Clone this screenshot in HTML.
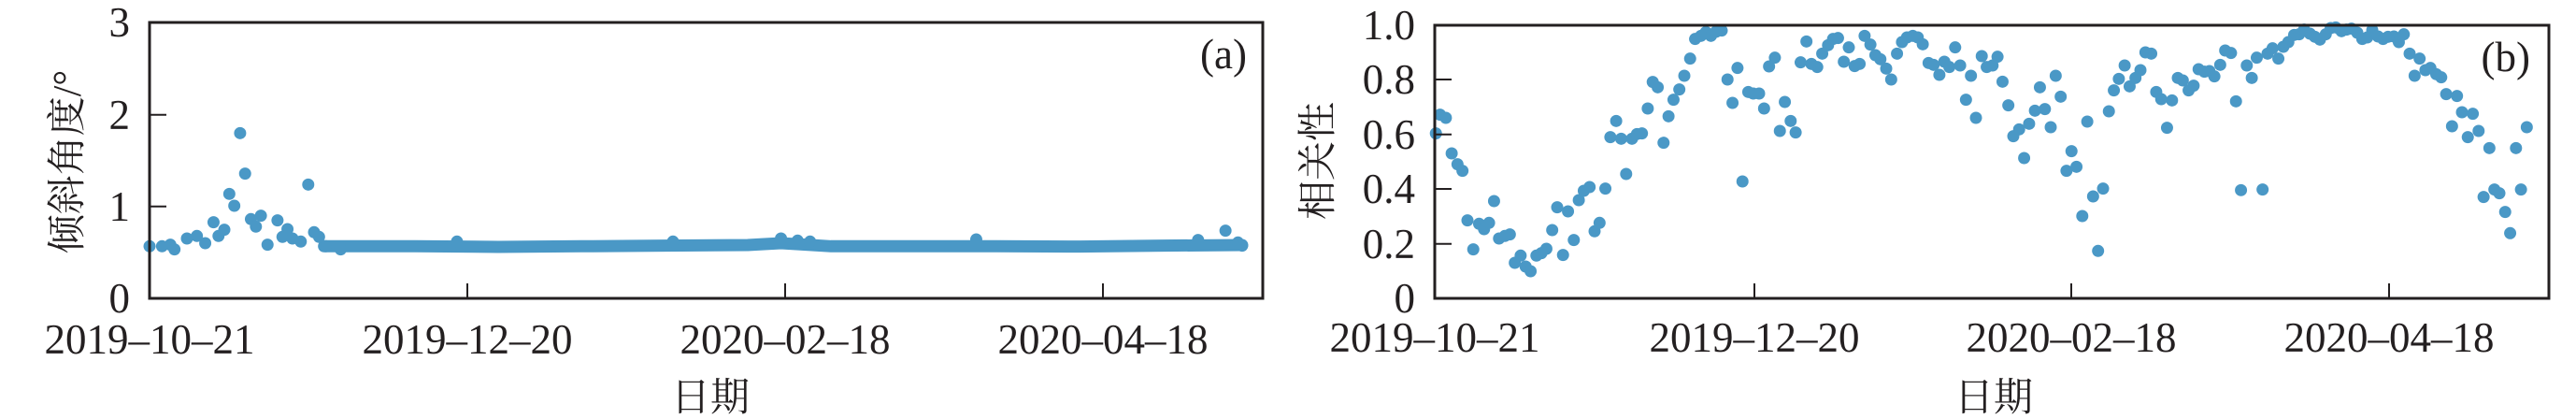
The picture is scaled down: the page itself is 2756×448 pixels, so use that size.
<!DOCTYPE html>
<html><head><meta charset="utf-8"><style>
html,body{margin:0;padding:0;background:#fff;}
svg{display:block;}
.t{font-family:"Liberation Serif","Noto Serif CJK SC",serif;font-size:45px;fill:#231f20;}
.c{font-family:"Liberation Serif","Noto Serif CJK SC",serif;font-size:42px;fill:#231f20;}
</style></head><body>
<svg width="2756" height="448" viewBox="0 0 2756 448" xmlns="http://www.w3.org/2000/svg">
<!-- Panel a -->
<g fill="#4a98c6">
<g transform="scale(0.8889,0.3333)">
<polyline fill="none" stroke="#4a98c6" stroke-width="13" stroke-linecap="round" vector-effect="non-scaling-stroke" points="390,790 500,790 600,792 700,790 800,788 900,786 940,780 1000,790 1100,790 1200,790 1300,791 1400,788 1495,786"/>
<g>
<ellipse cx="180" cy="790" rx="7.3" ry="19.5"/><ellipse cx="195" cy="790" rx="7.3" ry="19.5"/><ellipse cx="205" cy="785" rx="7.3" ry="19.5"/><ellipse cx="210" cy="800" rx="7.3" ry="19.5"/><ellipse cx="225" cy="765" rx="7.3" ry="19.5"/><ellipse cx="237" cy="757" rx="7.3" ry="19.5"/><ellipse cx="247" cy="780" rx="7.3" ry="19.5"/><ellipse cx="257" cy="713" rx="7.3" ry="19.5"/><ellipse cx="263" cy="757" rx="7.3" ry="19.5"/><ellipse cx="270" cy="737" rx="7.3" ry="19.5"/><ellipse cx="276" cy="622" rx="7.3" ry="19.5"/><ellipse cx="282" cy="660" rx="7.3" ry="19.5"/><ellipse cx="289" cy="427" rx="7.3" ry="19.5"/><ellipse cx="295" cy="557" rx="7.3" ry="19.5"/><ellipse cx="302" cy="703" rx="7.3" ry="19.5"/><ellipse cx="308" cy="727" rx="7.3" ry="19.5"/><ellipse cx="314" cy="692" rx="7.3" ry="19.5"/><ellipse cx="322" cy="785" rx="7.3" ry="19.5"/><ellipse cx="334" cy="707" rx="7.3" ry="19.5"/><ellipse cx="340" cy="760" rx="7.3" ry="19.5"/><ellipse cx="346" cy="735" rx="7.3" ry="19.5"/><ellipse cx="352" cy="765" rx="7.3" ry="19.5"/><ellipse cx="362" cy="775" rx="7.3" ry="19.5"/><ellipse cx="371" cy="592" rx="7.3" ry="19.5"/><ellipse cx="378" cy="745" rx="7.3" ry="19.5"/><ellipse cx="384" cy="760" rx="7.3" ry="19.5"/><ellipse cx="392" cy="790" rx="7.3" ry="19.5"/><ellipse cx="410" cy="800" rx="7.3" ry="19.5"/><ellipse cx="550" cy="775" rx="7.3" ry="19.5"/><ellipse cx="810" cy="775" rx="7.3" ry="19.5"/><ellipse cx="940" cy="765" rx="7.3" ry="19.5"/><ellipse cx="960" cy="772" rx="7.3" ry="19.5"/><ellipse cx="975" cy="775" rx="7.3" ry="19.5"/><ellipse cx="1175" cy="768" rx="7.3" ry="19.5"/><ellipse cx="1442" cy="770" rx="7.3" ry="19.5"/><ellipse cx="1475" cy="740" rx="7.3" ry="19.5"/><ellipse cx="1490" cy="778" rx="7.3" ry="19.5"/><ellipse cx="1495" cy="788" rx="7.3" ry="19.5"/>
</g></g></g>
<g stroke="#231f20" fill="none">
<rect x="160" y="24" width="1191" height="295" stroke-width="3"/>
<line x1="160" y1="220.7" x2="178" y2="220.7" stroke-width="2"/>
<line x1="160" y1="122.7" x2="178" y2="122.7" stroke-width="2"/>
<line x1="500" y1="319" x2="500" y2="303" stroke-width="2"/>
<line x1="840" y1="319" x2="840" y2="303" stroke-width="2"/>
<line x1="1180" y1="319" x2="1180" y2="303" stroke-width="2"/>
</g>
<g class="t" text-anchor="end">
<text x="139" y="334">0</text><text x="139" y="236">1</text><text x="139" y="138">2</text><text x="139" y="39">3</text>
</g>
<g class="t" text-anchor="middle">
<text x="160" y="378">2019–10–21</text><text x="500" y="378">2019–12–20</text><text x="840" y="378">2020–02–18</text><text x="1180" y="378">2020–04–18</text>
</g>
<text class="t" x="1334" y="73" text-anchor="end">(a)</text>
<text class="c" x="760" y="439" text-anchor="middle">日期</text>
<text class="c" transform="translate(86,173) rotate(-90)" text-anchor="middle">倾斜角度/°</text>

<!-- Panel b -->
<g fill="#4a98c6" transform="translate(1378,0) scale(0.8889,0.3333)">
<ellipse cx="178" cy="428" rx="7.3" ry="19.5"/><ellipse cx="183" cy="368" rx="7.3" ry="19.5"/><ellipse cx="190" cy="378" rx="7.3" ry="19.5"/><ellipse cx="197" cy="492" rx="7.3" ry="19.5"/><ellipse cx="204" cy="527" rx="7.3" ry="19.5"/><ellipse cx="210" cy="548" rx="7.3" ry="19.5"/><ellipse cx="216" cy="707" rx="7.3" ry="19.5"/><ellipse cx="223" cy="800" rx="7.3" ry="19.5"/><ellipse cx="230" cy="718" rx="7.3" ry="19.5"/><ellipse cx="236" cy="735" rx="7.3" ry="19.5"/><ellipse cx="242" cy="715" rx="7.3" ry="19.5"/><ellipse cx="248" cy="645" rx="7.3" ry="19.5"/><ellipse cx="254" cy="765" rx="7.3" ry="19.5"/><ellipse cx="261" cy="757" rx="7.3" ry="19.5"/><ellipse cx="267" cy="752" rx="7.3" ry="19.5"/><ellipse cx="273" cy="843" rx="7.3" ry="19.5"/><ellipse cx="280" cy="820" rx="7.3" ry="19.5"/><ellipse cx="286" cy="855" rx="7.3" ry="19.5"/><ellipse cx="292" cy="870" rx="7.3" ry="19.5"/><ellipse cx="299" cy="820" rx="7.3" ry="19.5"/><ellipse cx="305" cy="812" rx="7.3" ry="19.5"/><ellipse cx="311" cy="798" rx="7.3" ry="19.5"/><ellipse cx="318" cy="738" rx="7.3" ry="19.5"/><ellipse cx="324" cy="665" rx="7.3" ry="19.5"/><ellipse cx="331" cy="818" rx="7.3" ry="19.5"/><ellipse cx="337" cy="678" rx="7.3" ry="19.5"/><ellipse cx="344" cy="770" rx="7.3" ry="19.5"/><ellipse cx="350" cy="642" rx="7.3" ry="19.5"/><ellipse cx="356" cy="612" rx="7.3" ry="19.5"/><ellipse cx="363" cy="600" rx="7.3" ry="19.5"/><ellipse cx="369" cy="742" rx="7.3" ry="19.5"/><ellipse cx="375" cy="715" rx="7.3" ry="19.5"/><ellipse cx="382" cy="605" rx="7.3" ry="19.5"/><ellipse cx="388" cy="440" rx="7.3" ry="19.5"/><ellipse cx="395" cy="388" rx="7.3" ry="19.5"/><ellipse cx="401" cy="445" rx="7.3" ry="19.5"/><ellipse cx="407" cy="558" rx="7.3" ry="19.5"/><ellipse cx="414" cy="445" rx="7.3" ry="19.5"/><ellipse cx="420" cy="430" rx="7.3" ry="19.5"/><ellipse cx="426" cy="428" rx="7.3" ry="19.5"/><ellipse cx="433" cy="348" rx="7.3" ry="19.5"/><ellipse cx="439" cy="263" rx="7.3" ry="19.5"/><ellipse cx="445" cy="280" rx="7.3" ry="19.5"/><ellipse cx="452" cy="458" rx="7.3" ry="19.5"/><ellipse cx="458" cy="373" rx="7.3" ry="19.5"/><ellipse cx="464" cy="320" rx="7.3" ry="19.5"/><ellipse cx="471" cy="287" rx="7.3" ry="19.5"/><ellipse cx="477" cy="243" rx="7.3" ry="19.5"/><ellipse cx="484" cy="188" rx="7.3" ry="19.5"/><ellipse cx="490" cy="125" rx="7.3" ry="19.5"/><ellipse cx="497" cy="115" rx="7.3" ry="19.5"/><ellipse cx="503" cy="103" rx="7.3" ry="19.5"/><ellipse cx="509" cy="115" rx="7.3" ry="19.5"/><ellipse cx="515" cy="102" rx="7.3" ry="19.5"/><ellipse cx="522" cy="98" rx="7.3" ry="19.5"/><ellipse cx="529" cy="255" rx="7.3" ry="19.5"/><ellipse cx="535" cy="330" rx="7.3" ry="19.5"/><ellipse cx="541" cy="218" rx="7.3" ry="19.5"/><ellipse cx="547" cy="582" rx="7.3" ry="19.5"/><ellipse cx="554" cy="295" rx="7.3" ry="19.5"/><ellipse cx="560" cy="300" rx="7.3" ry="19.5"/><ellipse cx="567" cy="300" rx="7.3" ry="19.5"/><ellipse cx="573" cy="348" rx="7.3" ry="19.5"/><ellipse cx="579" cy="213" rx="7.3" ry="19.5"/><ellipse cx="586" cy="185" rx="7.3" ry="19.5"/><ellipse cx="592" cy="420" rx="7.3" ry="19.5"/><ellipse cx="598" cy="327" rx="7.3" ry="19.5"/><ellipse cx="605" cy="388" rx="7.3" ry="19.5"/><ellipse cx="611" cy="425" rx="7.3" ry="19.5"/><ellipse cx="617" cy="200" rx="7.3" ry="19.5"/><ellipse cx="624" cy="133" rx="7.3" ry="19.5"/><ellipse cx="630" cy="205" rx="7.3" ry="19.5"/><ellipse cx="637" cy="215" rx="7.3" ry="19.5"/><ellipse cx="643" cy="172" rx="7.3" ry="19.5"/><ellipse cx="650" cy="145" rx="7.3" ry="19.5"/><ellipse cx="656" cy="125" rx="7.3" ry="19.5"/><ellipse cx="662" cy="122" rx="7.3" ry="19.5"/><ellipse cx="669" cy="198" rx="7.3" ry="19.5"/><ellipse cx="675" cy="152" rx="7.3" ry="19.5"/><ellipse cx="682" cy="212" rx="7.3" ry="19.5"/><ellipse cx="688" cy="205" rx="7.3" ry="19.5"/><ellipse cx="694" cy="115" rx="7.3" ry="19.5"/><ellipse cx="701" cy="143" rx="7.3" ry="19.5"/><ellipse cx="707" cy="177" rx="7.3" ry="19.5"/><ellipse cx="713" cy="190" rx="7.3" ry="19.5"/><ellipse cx="720" cy="220" rx="7.3" ry="19.5"/><ellipse cx="726" cy="255" rx="7.3" ry="19.5"/><ellipse cx="733" cy="172" rx="7.3" ry="19.5"/><ellipse cx="739" cy="135" rx="7.3" ry="19.5"/><ellipse cx="745" cy="120" rx="7.3" ry="19.5"/><ellipse cx="752" cy="115" rx="7.3" ry="19.5"/><ellipse cx="758" cy="120" rx="7.3" ry="19.5"/><ellipse cx="764" cy="142" rx="7.3" ry="19.5"/><ellipse cx="771" cy="202" rx="7.3" ry="19.5"/><ellipse cx="777" cy="208" rx="7.3" ry="19.5"/><ellipse cx="784" cy="240" rx="7.3" ry="19.5"/><ellipse cx="790" cy="198" rx="7.3" ry="19.5"/><ellipse cx="796" cy="215" rx="7.3" ry="19.5"/><ellipse cx="803" cy="152" rx="7.3" ry="19.5"/><ellipse cx="809" cy="210" rx="7.3" ry="19.5"/><ellipse cx="816" cy="320" rx="7.3" ry="19.5"/><ellipse cx="822" cy="243" rx="7.3" ry="19.5"/><ellipse cx="828" cy="378" rx="7.3" ry="19.5"/><ellipse cx="835" cy="180" rx="7.3" ry="19.5"/><ellipse cx="841" cy="215" rx="7.3" ry="19.5"/><ellipse cx="848" cy="210" rx="7.3" ry="19.5"/><ellipse cx="854" cy="182" rx="7.3" ry="19.5"/><ellipse cx="860" cy="262" rx="7.3" ry="19.5"/><ellipse cx="867" cy="338" rx="7.3" ry="19.5"/><ellipse cx="873" cy="437" rx="7.3" ry="19.5"/><ellipse cx="880" cy="415" rx="7.3" ry="19.5"/><ellipse cx="886" cy="507" rx="7.3" ry="19.5"/><ellipse cx="892" cy="397" rx="7.3" ry="19.5"/><ellipse cx="899" cy="355" rx="7.3" ry="19.5"/><ellipse cx="905" cy="280" rx="7.3" ry="19.5"/><ellipse cx="911" cy="350" rx="7.3" ry="19.5"/><ellipse cx="918" cy="408" rx="7.3" ry="19.5"/><ellipse cx="924" cy="243" rx="7.3" ry="19.5"/><ellipse cx="930" cy="310" rx="7.3" ry="19.5"/><ellipse cx="937" cy="548" rx="7.3" ry="19.5"/><ellipse cx="943" cy="485" rx="7.3" ry="19.5"/><ellipse cx="949" cy="535" rx="7.3" ry="19.5"/><ellipse cx="956" cy="693" rx="7.3" ry="19.5"/><ellipse cx="962" cy="390" rx="7.3" ry="19.5"/><ellipse cx="969" cy="630" rx="7.3" ry="19.5"/><ellipse cx="975" cy="805" rx="7.3" ry="19.5"/><ellipse cx="981" cy="605" rx="7.3" ry="19.5"/><ellipse cx="988" cy="357" rx="7.3" ry="19.5"/><ellipse cx="994" cy="290" rx="7.3" ry="19.5"/><ellipse cx="1000" cy="253" rx="7.3" ry="19.5"/><ellipse cx="1007" cy="210" rx="7.3" ry="19.5"/><ellipse cx="1013" cy="277" rx="7.3" ry="19.5"/><ellipse cx="1020" cy="250" rx="7.3" ry="19.5"/><ellipse cx="1026" cy="225" rx="7.3" ry="19.5"/><ellipse cx="1032" cy="168" rx="7.3" ry="19.5"/><ellipse cx="1039" cy="172" rx="7.3" ry="19.5"/><ellipse cx="1045" cy="295" rx="7.3" ry="19.5"/><ellipse cx="1051" cy="318" rx="7.3" ry="19.5"/><ellipse cx="1058" cy="410" rx="7.3" ry="19.5"/><ellipse cx="1064" cy="322" rx="7.3" ry="19.5"/><ellipse cx="1071" cy="250" rx="7.3" ry="19.5"/><ellipse cx="1077" cy="258" rx="7.3" ry="19.5"/><ellipse cx="1084" cy="290" rx="7.3" ry="19.5"/><ellipse cx="1090" cy="275" rx="7.3" ry="19.5"/><ellipse cx="1096" cy="222" rx="7.3" ry="19.5"/><ellipse cx="1103" cy="230" rx="7.3" ry="19.5"/><ellipse cx="1109" cy="228" rx="7.3" ry="19.5"/><ellipse cx="1115" cy="245" rx="7.3" ry="19.5"/><ellipse cx="1122" cy="208" rx="7.3" ry="19.5"/><ellipse cx="1128" cy="162" rx="7.3" ry="19.5"/><ellipse cx="1135" cy="170" rx="7.3" ry="19.5"/><ellipse cx="1141" cy="325" rx="7.3" ry="19.5"/><ellipse cx="1147" cy="610" rx="7.3" ry="19.5"/><ellipse cx="1154" cy="210" rx="7.3" ry="19.5"/><ellipse cx="1160" cy="250" rx="7.3" ry="19.5"/><ellipse cx="1166" cy="185" rx="7.3" ry="19.5"/><ellipse cx="1173" cy="608" rx="7.3" ry="19.5"/><ellipse cx="1179" cy="172" rx="7.3" ry="19.5"/><ellipse cx="1185" cy="155" rx="7.3" ry="19.5"/><ellipse cx="1192" cy="188" rx="7.3" ry="19.5"/><ellipse cx="1198" cy="150" rx="7.3" ry="19.5"/><ellipse cx="1204" cy="135" rx="7.3" ry="19.5"/><ellipse cx="1211" cy="112" rx="7.3" ry="19.5"/><ellipse cx="1217" cy="110" rx="7.3" ry="19.5"/><ellipse cx="1223" cy="95" rx="7.3" ry="19.5"/><ellipse cx="1230" cy="108" rx="7.3" ry="19.5"/><ellipse cx="1236" cy="118" rx="7.3" ry="19.5"/><ellipse cx="1242" cy="127" rx="7.3" ry="19.5"/><ellipse cx="1249" cy="110" rx="7.3" ry="19.5"/><ellipse cx="1255" cy="90" rx="7.3" ry="19.5"/><ellipse cx="1261" cy="88" rx="7.3" ry="19.5"/><ellipse cx="1268" cy="100" rx="7.3" ry="19.5"/><ellipse cx="1274" cy="95" rx="7.3" ry="19.5"/><ellipse cx="1280" cy="92" rx="7.3" ry="19.5"/><ellipse cx="1287" cy="105" rx="7.3" ry="19.5"/><ellipse cx="1293" cy="125" rx="7.3" ry="19.5"/><ellipse cx="1299" cy="120" rx="7.3" ry="19.5"/><ellipse cx="1305" cy="97" rx="7.3" ry="19.5"/><ellipse cx="1312" cy="117" rx="7.3" ry="19.5"/><ellipse cx="1318" cy="125" rx="7.3" ry="19.5"/><ellipse cx="1324" cy="118" rx="7.3" ry="19.5"/><ellipse cx="1331" cy="117" rx="7.3" ry="19.5"/><ellipse cx="1337" cy="135" rx="7.3" ry="19.5"/><ellipse cx="1343" cy="110" rx="7.3" ry="19.5"/><ellipse cx="1350" cy="172" rx="7.3" ry="19.5"/><ellipse cx="1356" cy="243" rx="7.3" ry="19.5"/><ellipse cx="1362" cy="188" rx="7.3" ry="19.5"/><ellipse cx="1369" cy="225" rx="7.3" ry="19.5"/><ellipse cx="1375" cy="218" rx="7.3" ry="19.5"/><ellipse cx="1382" cy="238" rx="7.3" ry="19.5"/><ellipse cx="1388" cy="248" rx="7.3" ry="19.5"/><ellipse cx="1394" cy="302" rx="7.3" ry="19.5"/><ellipse cx="1401" cy="405" rx="7.3" ry="19.5"/><ellipse cx="1407" cy="308" rx="7.3" ry="19.5"/><ellipse cx="1413" cy="360" rx="7.3" ry="19.5"/><ellipse cx="1420" cy="440" rx="7.3" ry="19.5"/><ellipse cx="1426" cy="365" rx="7.3" ry="19.5"/><ellipse cx="1433" cy="420" rx="7.3" ry="19.5"/><ellipse cx="1439" cy="632" rx="7.3" ry="19.5"/><ellipse cx="1446" cy="475" rx="7.3" ry="19.5"/><ellipse cx="1452" cy="608" rx="7.3" ry="19.5"/><ellipse cx="1458" cy="620" rx="7.3" ry="19.5"/><ellipse cx="1465" cy="680" rx="7.3" ry="19.5"/><ellipse cx="1471" cy="748" rx="7.3" ry="19.5"/><ellipse cx="1478" cy="475" rx="7.3" ry="19.5"/><ellipse cx="1484" cy="608" rx="7.3" ry="19.5"/><ellipse cx="1491" cy="408" rx="7.3" ry="19.5"/>
</g>
<g stroke="#231f20" fill="none">
<rect x="1535" y="27" width="1192" height="292" stroke-width="3"/>
<line x1="1535" y1="260.7" x2="1553" y2="260.7" stroke-width="2"/>
<line x1="1535" y1="202" x2="1553" y2="202" stroke-width="2"/>
<line x1="1535" y1="143.7" x2="1553" y2="143.7" stroke-width="2"/>
<line x1="1535" y1="85" x2="1553" y2="85" stroke-width="2"/>
<line x1="1877" y1="319" x2="1877" y2="303" stroke-width="2"/>
<line x1="2216" y1="319" x2="2216" y2="303" stroke-width="2"/>
<line x1="2556" y1="319" x2="2556" y2="303" stroke-width="2"/>
</g>
<g class="t" text-anchor="end">
<text x="1514" y="334">0</text><text x="1514" y="276">0.2</text><text x="1514" y="217">0.4</text><text x="1514" y="159">0.6</text><text x="1514" y="100">0.8</text><text x="1514" y="42">1.0</text>
</g>
<g class="t" text-anchor="middle">
<text x="1535" y="376">2019–10–21</text><text x="1877" y="376">2019–12–20</text><text x="2216" y="376">2020–02–18</text><text x="2556" y="376">2020–04–18</text>
</g>
<text class="t" x="2707" y="76" text-anchor="end">(b)</text>
<text class="c" x="2133" y="439" text-anchor="middle">日期</text>
<text class="c" transform="translate(1424,172) rotate(-90)" text-anchor="middle">相关性</text>
</svg>
</body></html>
